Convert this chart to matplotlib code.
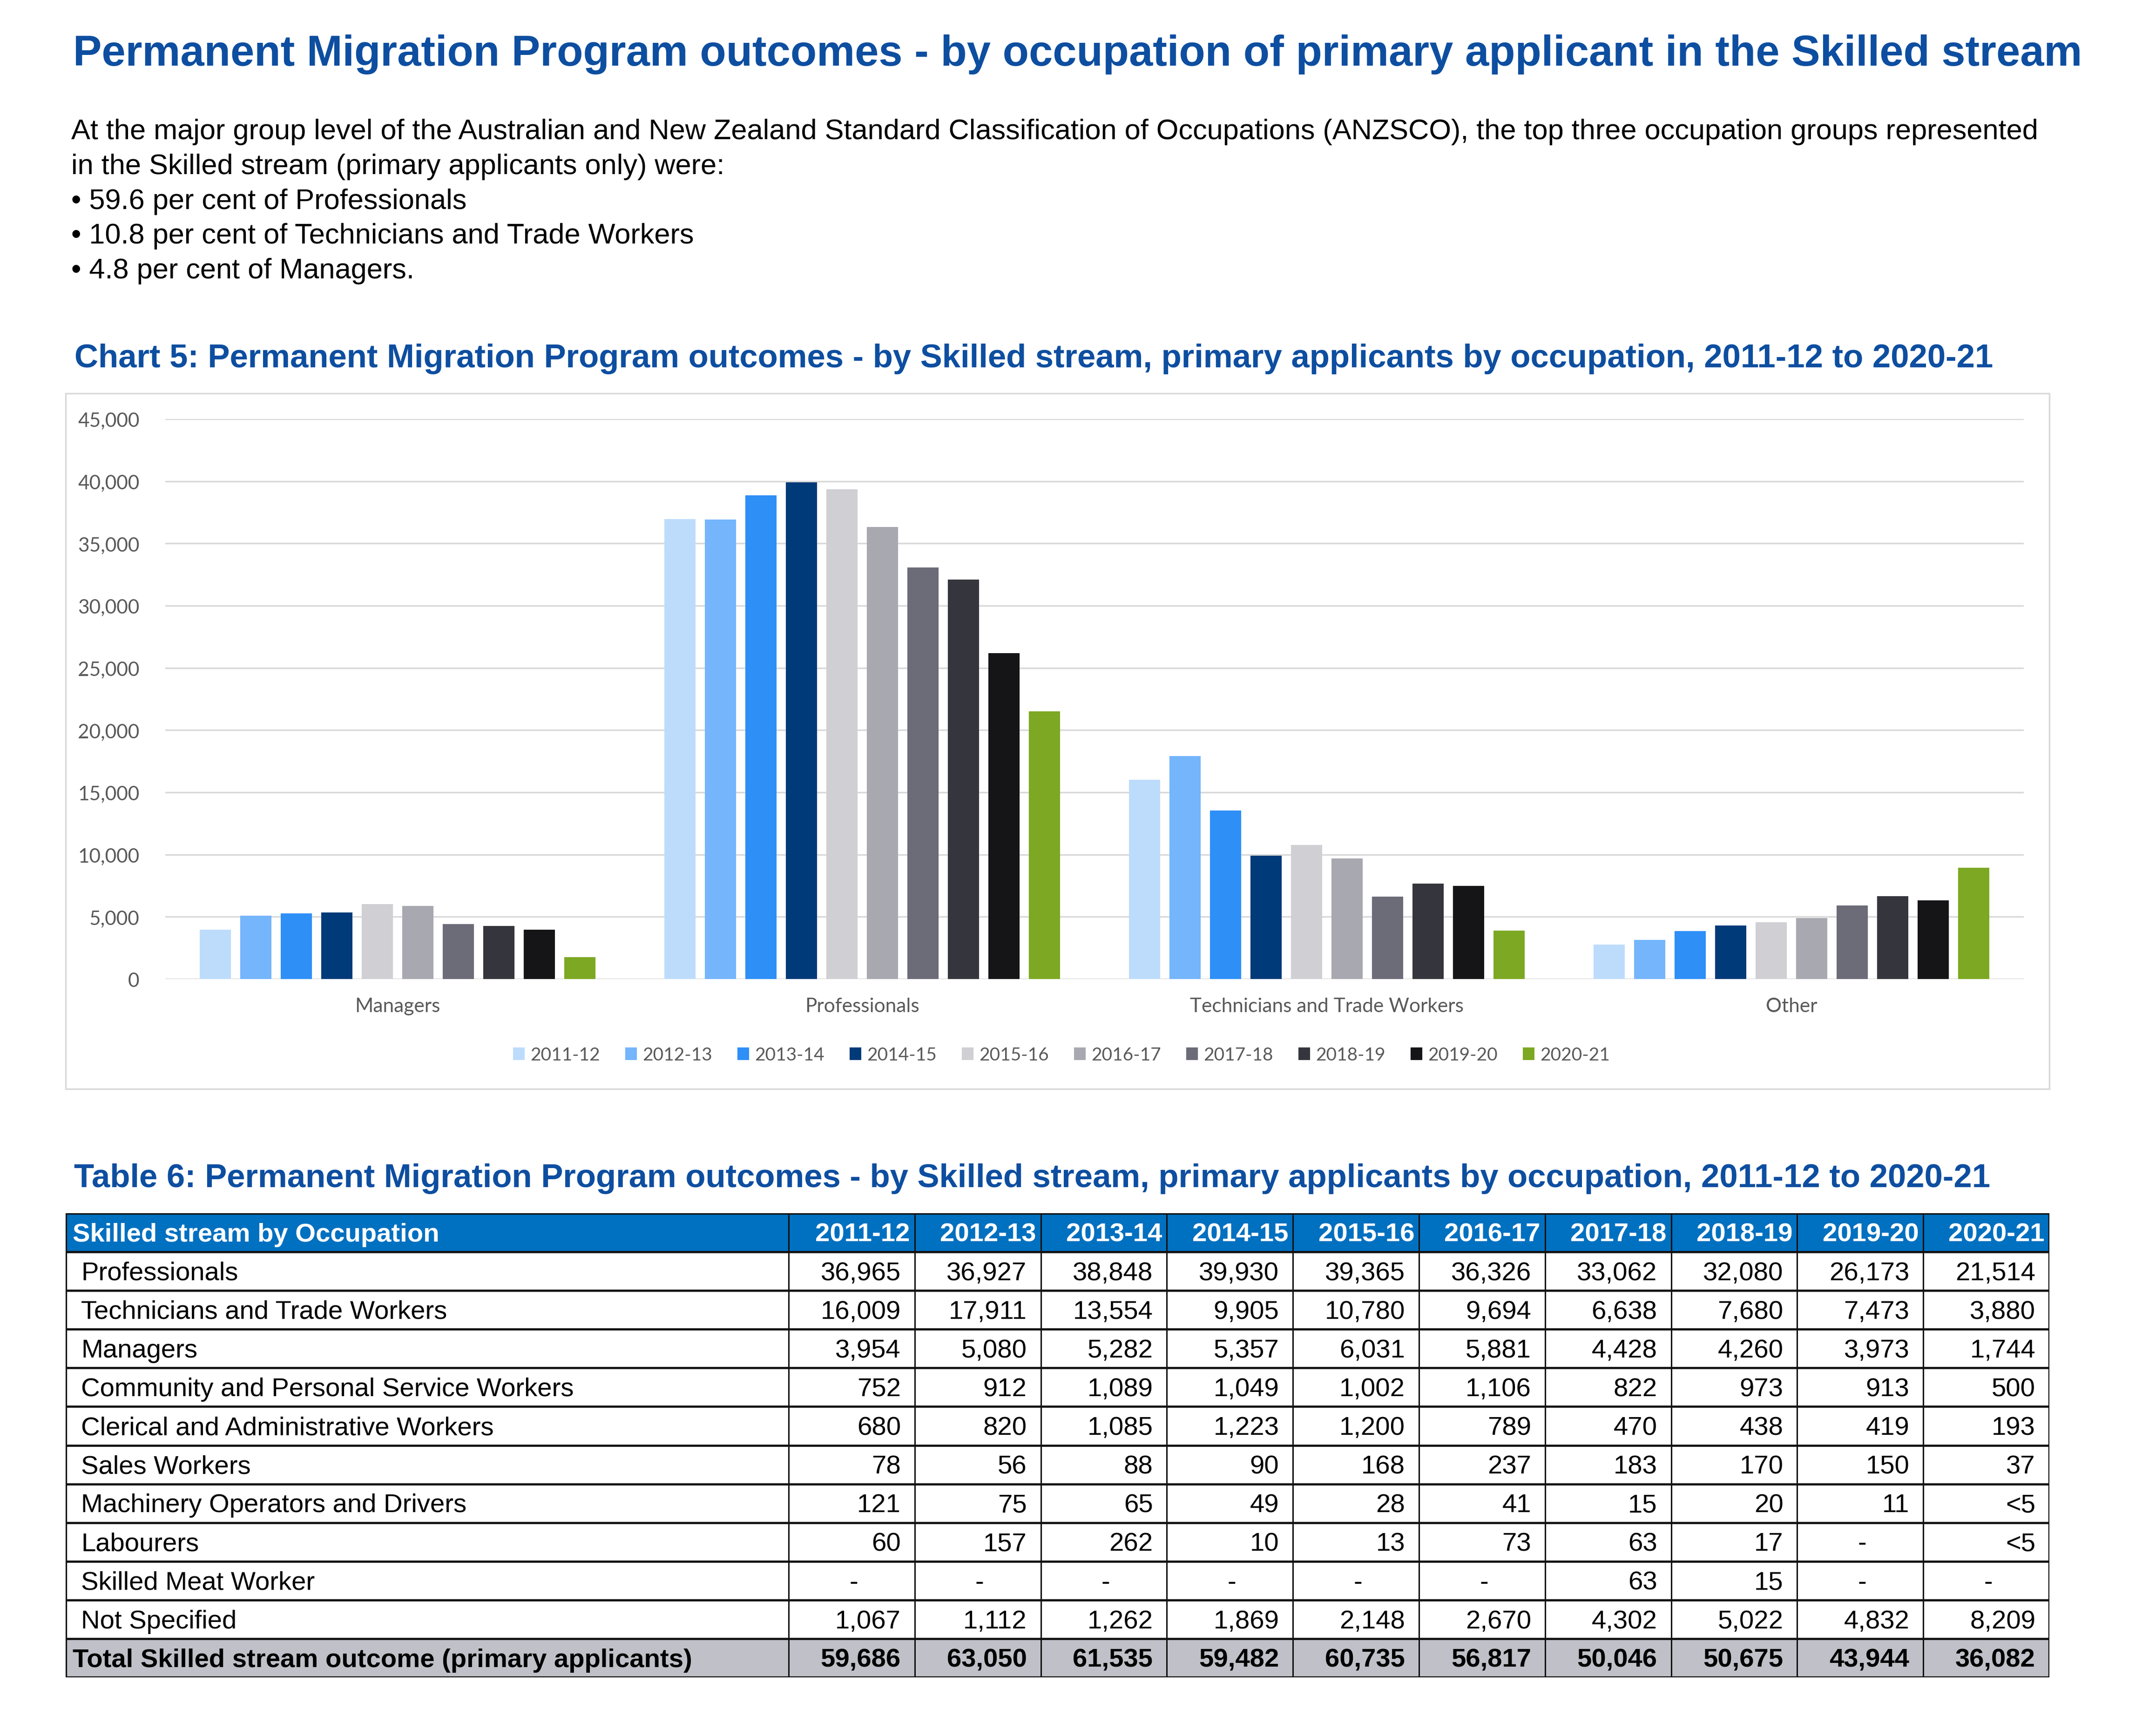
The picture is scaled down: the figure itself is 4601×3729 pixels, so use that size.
import numpy as np
import matplotlib.pyplot as plt
from matplotlib.patches import Patch, Rectangle

# ---- data ----
years = ["2011-12", "2012-13", "2013-14", "2014-15", "2015-16",
         "2016-17", "2017-18", "2018-19", "2019-20", "2020-21"]
categories = ["Managers", "Professionals", "Technicians and Trade Workers", "Other"]

managers = [3954, 5080, 5282, 5357, 6031, 5881, 4428, 4260, 3973, 1744]
professionals = [36965, 36927, 38848, 39930, 39365, 36326, 33062, 32080, 26173, 21514]
technicians = [16009, 17911, 13554, 9905, 10780, 9694, 6638, 7680, 7473, 3880]
other = [2758, 3132, 3851, 4290, 4559, 4916, 5918, 6655, 6325, 8945]

colors = ["#BDDCFC", "#74B5FB", "#2E8FF7", "#003A78", "#CFCFD4",
          "#A8A8B0", "#6C6B78", "#35363D", "#151518", "#7DA823"]

table_header = "Skilled stream by Occupation"
table_labels = ["Professionals", "Technicians and Trade Workers", "Managers",
                "Community and Personal Service Workers",
                "Clerical and Administrative Workers", "Sales Workers",
                "Machinery Operators and Drivers", "Labourers",
                "Skilled Meat Worker", "Not Specified"]
table_values = [
    ["36,965", "36,927", "38,848", "39,930", "39,365", "36,326", "33,062", "32,080", "26,173", "21,514"],
    ["16,009", "17,911", "13,554", "9,905", "10,780", "9,694", "6,638", "7,680", "7,473", "3,880"],
    ["3,954", "5,080", "5,282", "5,357", "6,031", "5,881", "4,428", "4,260", "3,973", "1,744"],
    ["752", "912", "1,089", "1,049", "1,002", "1,106", "822", "973", "913", "500"],
    ["680", "820", "1,085", "1,223", "1,200", "789", "470", "438", "419", "193"],
    ["78", "56", "88", "90", "168", "237", "183", "170", "150", "37"],
    ["121", "75", "65", "49", "28", "41", "15", "20", "11", "<5"],
    ["60", "157", "262", "10", "13", "73", "63", "17", "-", "<5"],
    ["-", "-", "-", "-", "-", "-", "63", "15", "-", "-"],
    ["1,067", "1,112", "1,262", "1,869", "2,148", "2,670", "4,302", "5,022", "4,832", "8,209"],
]
total_label = "Total Skilled stream outcome (primary applicants)"
total_values = ["59,686", "63,050", "61,535", "59,482", "60,735",
                "56,817", "50,046", "50,675", "43,944", "36,082"]

W, H = 4601, 3730
fig = plt.figure(figsize=(W / 100, H / 100), dpi=100)
BLUE = "#0D4EA0"
ARIAL = "Liberation Sans"
CHARTF = "Lato"

def fy(px):
    return 1 - px / H

def fx(px):
    return px / W

# ---- headings and text ----
fig.text(0.503, fy(141), "Permanent Migration Program outcomes - by occupation of primary applicant in the Skilled stream",
         ha="center", va="baseline", fontsize=66.3, fontweight="bold", color=BLUE, family=ARIAL)

para = ["At the major group level of the Australian and New Zealand Standard Classification of Occupations (ANZSCO), the top three occupation groups represented",
        "in the Skilled stream (primary applicants only) were:",
        "\u2022 59.6 per cent of Professionals",
        "\u2022 10.8 per cent of Technicians and Trade Workers",
        "\u2022 4.8 per cent of Managers."]
for i, line in enumerate(para):
    fig.text(fx(153), fy(299 + i * 74.8), line, ha="left", va="baseline",
             fontsize=44.1, color="black", family=ARIAL)

fig.text(fx(160), fy(789), "Chart 5: Permanent Migration Program outcomes - by Skilled stream, primary applicants by occupation, 2011-12 to 2020-21",
         ha="left", va="baseline", fontsize=50.9, fontweight="bold", color=BLUE, family=ARIAL)
fig.text(fx(159), fy(2550), "Table 6: Permanent Migration Program outcomes - by Skilled stream, primary applicants by occupation, 2011-12 to 2020-21",
         ha="left", va="baseline", fontsize=50.9, fontweight="bold", color=BLUE, family=ARIAL)

# ---- chart box ----
fig.patches.append(Rectangle((fx(141), fy(2340)), fx(4402) - fx(141), fy(846) - fy(2340),
                             transform=fig.transFigure, fill=False, edgecolor="#D9D9D9", lw=2.5))

ax = fig.add_axes([fx(355), fy(2104), fx(4347) - fx(355), fy(901) - fy(2104)])
series = np.array([managers, professionals, technicians, other])
x = np.arange(len(categories))
step, width = 0.0872, 0.067
for i, yr in enumerate(years):
    ax.bar(x + (i - 4.5) * step, series[:, i], width=width, color=colors[i], label=yr, zorder=3)

ax.set_xlim(-0.5, 3.5)
ax.set_ylim(0, 45000)
ax.set_yticks(np.arange(0, 45001, 5000))
ax.set_yticklabels([f"{v:,}" for v in range(0, 45001, 5000)])
ax.set_xticks(x)
ax.set_xticklabels(categories)
ax.yaxis.grid(True, color="#D9D9D9", lw=2.5, zorder=0)
for s in ax.spines.values():
    s.set_visible(False)
ax.tick_params(axis="both", length=0, labelsize=30.5, labelcolor="#595959")
ax.tick_params(axis="y", pad=40)
ax.tick_params(axis="x", pad=28)
for lab in ax.get_xticklabels() + ax.get_yticklabels():
    lab.set_family(CHARTF)

handles = [Patch(facecolor=c, edgecolor="none") for c in colors]
fig.legend(handles, years, loc="center", bbox_to_anchor=(0.4955, fy(2267)), ncol=10, frameon=False,
           prop={"family": CHARTF, "size": 28}, labelcolor="#595959",
           handlelength=0.65, handleheight=0.68, handletextpad=0.3, columnspacing=1.4)

# ---- table ----
t_left, t_right, t_top, t_bot = 141, 4402, 2607, 3604
col1 = 1694
nrows = 12
rh = (t_bot - t_top) / nrows
cw = (t_right - col1) / 10
tax = fig.add_axes([fx(t_left), fy(t_bot), fx(t_right) - fx(t_left), fy(t_top) - fy(t_bot)])
tax.set_xlim(t_left, t_right)
tax.set_ylim(t_bot, t_top)
tax.axis("off")

tax.add_patch(Rectangle((t_left, t_top), t_right - t_left, rh, facecolor="#0070C0", edgecolor="none"))
tax.add_patch(Rectangle((t_left, t_top + 11 * rh), t_right - t_left, rh, facecolor="#BFC0C8", edgecolor="none"))

TF = 40.5
base = 0.72
tax.text(t_left + 15, t_top + base * rh, table_header, ha="left", va="baseline",
         fontsize=TF, fontweight="bold", color="white", family=ARIAL)
for j, yr in enumerate(years):
    tax.text(col1 + (j + 1) * cw - 10, t_top + base * rh, yr, ha="right", va="baseline",
             fontsize=TF, fontweight="bold", color="white", family=ARIAL)

for r, (lab, vals) in enumerate(zip(table_labels, table_values)):
    yb = t_top + (r + 1) * rh + base * rh
    tax.text(t_left + 33, yb, lab, ha="left", va="baseline", fontsize=TF, color="black", family=ARIAL)
    for j, v in enumerate(vals):
        xr = col1 + (j + 1) * cw - 30
        if v == "-":
            xr = col1 + (j + 0.5) * cw + 4
            tax.text(xr, yb, v, ha="center", va="baseline", fontsize=TF, color="black", family=ARIAL)
        else:
            tax.text(xr, yb, v, ha="right", va="baseline", fontsize=TF, color="black", family=ARIAL)

yb = t_top + 11 * rh + base * rh
tax.text(t_left + 15, yb, total_label, ha="left", va="baseline", fontsize=TF,
         fontweight="bold", color="black", family=ARIAL)
for j, v in enumerate(total_values):
    tax.text(col1 + (j + 1) * cw - 30, yb, v, ha="right", va="baseline", fontsize=TF,
             fontweight="bold", color="black", family=ARIAL)

for r in range(1, nrows):
    tax.plot([t_left, t_right], [t_top + r * rh] * 2, color="#111111", lw=3.4, solid_capstyle="butt")
for j in range(10):
    xv = col1 + j * cw
    tax.plot([xv, xv], [t_top, t_bot], color="#111111", lw=2.2, solid_capstyle="butt")
tax.add_patch(Rectangle((t_left, t_top), t_right - t_left, t_bot - t_top, fill=False,
                        edgecolor="#111111", lw=3.8))

fig.savefig("out.png", dpi=100, facecolor="white")
